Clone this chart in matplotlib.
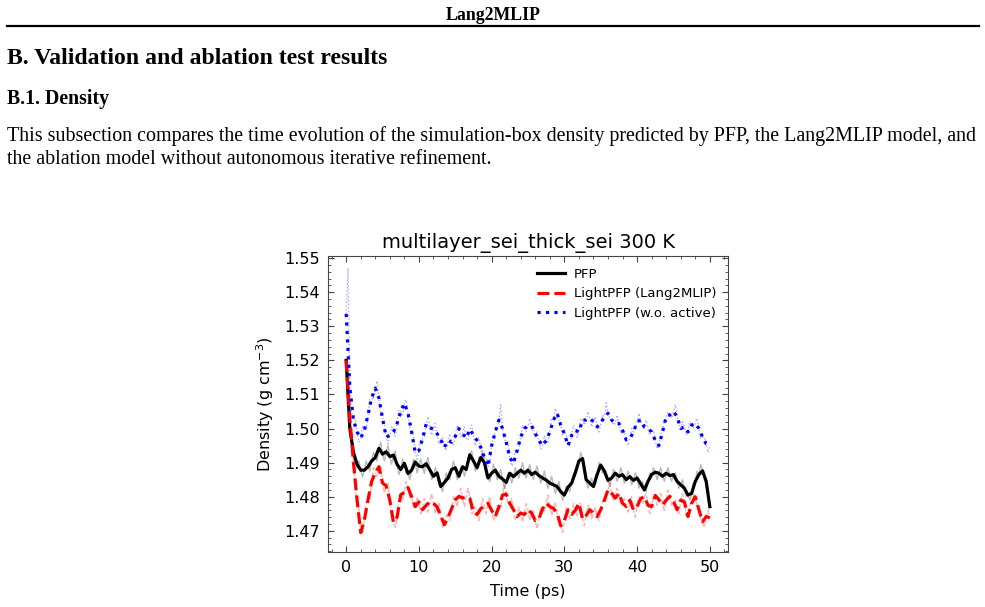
import numpy as np
import matplotlib
matplotlib.use("Agg")
import matplotlib.pyplot as plt
from matplotlib.lines import Line2D
from matplotlib.ticker import AutoMinorLocator

# smoothed curves, every 0.5 ps from 0 to 50
time = np.arange(0, 50.01, 0.5)
pfp = [1.5200, 1.5000, 1.4930, 1.4895, 1.4878, 1.4878, 1.4888, 1.4905, 1.4915, 1.4942,
       1.4925, 1.4932, 1.4918, 1.4922, 1.4895, 1.4880, 1.4898, 1.4868, 1.4878, 1.4902,
       1.4890, 1.4888, 1.4897, 1.4879, 1.4860, 1.4870, 1.4830, 1.4842, 1.4855, 1.4880,
       1.4885, 1.4860, 1.4888, 1.4880, 1.4923, 1.4905, 1.4885, 1.4915, 1.4900, 1.4855,
       1.4869, 1.4878, 1.4860, 1.4852, 1.4842, 1.4869, 1.4859, 1.4869, 1.4878, 1.4869,
       1.4878, 1.4865, 1.4872, 1.4862, 1.4855, 1.4849, 1.4840, 1.4835, 1.4830, 1.4815,
       1.4805, 1.4828, 1.4840, 1.4870, 1.4905, 1.4912, 1.4850, 1.4840, 1.4830, 1.4865,
       1.4893, 1.4875, 1.4848, 1.4855, 1.4869, 1.4860, 1.4865, 1.4850, 1.4859, 1.4848,
       1.4855, 1.4838, 1.4820, 1.4845, 1.4865, 1.4872, 1.4869, 1.4860, 1.4869, 1.4862,
       1.4865, 1.4845, 1.4835, 1.4825, 1.4805, 1.4810, 1.4845, 1.4865, 1.4876, 1.4845,
       1.4771]
lang2mlip = [1.5200, 1.5030, 1.4900, 1.4790, 1.4695, 1.4732, 1.4791, 1.4845, 1.4870, 1.4888,
             1.4840, 1.4832, 1.4790, 1.4725, 1.4740, 1.4806, 1.4813, 1.4827, 1.4800, 1.4771,
             1.4785, 1.4762, 1.4775, 1.4785, 1.4781, 1.4770, 1.4745, 1.4718, 1.4740, 1.4765,
             1.4791, 1.4801, 1.4796, 1.4800, 1.4795, 1.4755, 1.4748, 1.4765, 1.4771, 1.4781,
             1.4760, 1.4742, 1.4770, 1.4805, 1.4808, 1.4780, 1.4762, 1.4742, 1.4752, 1.4748,
             1.4762, 1.4752, 1.4730, 1.4735, 1.4765, 1.4781, 1.4771, 1.4766, 1.4752, 1.4715,
             1.4730, 1.4762, 1.4748, 1.4760, 1.4781, 1.4735, 1.4745, 1.4762, 1.4752, 1.4742,
             1.4762, 1.4790, 1.4820, 1.4810, 1.4796, 1.4810, 1.4781, 1.4771, 1.4790, 1.4762,
             1.4771, 1.4795, 1.4800, 1.4775, 1.4771, 1.4804, 1.4791, 1.4776, 1.4790, 1.4801,
             1.4786, 1.4762, 1.4790, 1.4785, 1.4742, 1.4781, 1.4800, 1.4762, 1.4727, 1.4742,
             1.4738]
wo_active = [1.5336, 1.5123, 1.5025, 1.4990, 1.4972, 1.4995, 1.5040, 1.5090, 1.5118, 1.5090,
             1.5030, 1.4975, 1.4980, 1.4990, 1.5015, 1.5050, 1.5074, 1.5045, 1.4990, 1.4929,
             1.4935, 1.4970, 1.5013, 1.5003, 1.4998, 1.4985, 1.4967, 1.4945, 1.4965, 1.4960,
             1.4977, 1.5000, 1.4985, 1.4972, 1.4998, 1.4980, 1.4965, 1.4945, 1.4915, 1.4889,
             1.4950, 1.4990, 1.5025, 1.5000, 1.4960, 1.4915, 1.4898, 1.4935, 1.4975, 1.5000,
             1.5008, 1.5008, 1.4985, 1.4965, 1.4950, 1.4965, 1.4990, 1.5025, 1.5045, 1.5010,
             1.4985, 1.4950, 1.4980, 1.4995, 1.4990, 1.5025, 1.5025, 1.5030, 1.5020, 1.5005,
             1.5015, 1.5035, 1.5045, 1.5025, 1.5015, 1.5015, 1.4995, 1.4967, 1.4970, 1.4990,
             1.5020, 1.5025, 1.5005, 1.5000, 1.4990, 1.4965, 1.4950, 1.4990, 1.5035, 1.5040,
             1.5050, 1.5035, 1.5000, 1.5005, 1.4990, 1.5010, 1.5015, 1.5000, 1.4975, 1.4955,
             1.4950]

# raw (unsmoothed) samples in between, at 0.25, 0.75, ... ps
time_mid = np.arange(0.25, 50, 0.5)
pfp_raw = [1.5120, 1.4985, 1.4875, 1.4905, 1.4858, 1.4905, 1.4875, 1.4930, 1.4905, 1.4960,
           1.4905, 1.4950, 1.4895, 1.4935, 1.4865, 1.4910, 1.4870, 1.4850, 1.4910, 1.4870,
           1.4910, 1.4868, 1.4915, 1.4850, 1.4885, 1.4835, 1.4815, 1.4870, 1.4850, 1.4905,
           1.4850, 1.4885, 1.4860, 1.4915, 1.4935, 1.4875, 1.4915, 1.4935, 1.4860, 1.4845,
           1.4895, 1.4850, 1.4880, 1.4825, 1.4870, 1.4840, 1.4885, 1.4855, 1.4900, 1.4855,
           1.4895, 1.4850, 1.4890, 1.4840, 1.4875, 1.4825, 1.4860, 1.4810, 1.4845, 1.4790,
           1.4830, 1.4815, 1.4870, 1.4880, 1.4930, 1.4870, 1.4825, 1.4855, 1.4835, 1.4900,
           1.4870, 1.4875, 1.4830, 1.4880, 1.4845, 1.4885, 1.4840, 1.4875, 1.4835, 1.4870,
           1.4825, 1.4845, 1.4815, 1.4870, 1.4885, 1.4850, 1.4885, 1.4845, 1.4885, 1.4845,
           1.4870, 1.4825, 1.4850, 1.4800, 1.4790, 1.4840, 1.4875, 1.4895, 1.4855, 1.4820]
lang2mlip_raw = [1.5135, 1.4990, 1.4820, 1.4760, 1.4690, 1.4785, 1.4790, 1.4885, 1.4860, 1.4890,
                 1.4810, 1.4840, 1.4735, 1.4710, 1.4790, 1.4790, 1.4845, 1.4800, 1.4770, 1.4800,
                 1.4750, 1.4795, 1.4755, 1.4810, 1.4750, 1.4780, 1.4710, 1.4745, 1.4730, 1.4800,
                 1.4770, 1.4825, 1.4770, 1.4825, 1.4750, 1.4770, 1.4730, 1.4795, 1.4750, 1.4800,
                 1.4730, 1.4775, 1.4765, 1.4835, 1.4780, 1.4795, 1.4730, 1.4770, 1.4725, 1.4780,
                 1.4730, 1.4760, 1.4705, 1.4770, 1.4755, 1.4805, 1.4745, 1.4785, 1.4725, 1.4695,
                 1.4770, 1.4735, 1.4780, 1.4745, 1.4780, 1.4715, 1.4775, 1.4735, 1.4770, 1.4730,
                 1.4790, 1.4810, 1.4840, 1.4790, 1.4825, 1.4780, 1.4795, 1.4755, 1.4800, 1.4740,
                 1.4800, 1.4780, 1.4810, 1.4750, 1.4800, 1.4775, 1.4810, 1.4760, 1.4820, 1.4775,
                 1.4790, 1.4750, 1.4810, 1.4745, 1.4775, 1.4810, 1.4775, 1.4735, 1.4710, 1.4760]
wo_active_raw = [1.5470, 1.5045, 1.5030, 1.4960, 1.5005, 1.4995, 1.5085, 1.5085, 1.5140, 1.5045,
                 1.5020, 1.4955, 1.5005, 1.4975, 1.5055, 1.5040, 1.5085, 1.5000, 1.4980, 1.4910,
                 1.4970, 1.4975, 1.5035, 1.4980, 1.5015, 1.4955, 1.4975, 1.4935, 1.4985, 1.4950,
                 1.5010, 1.4975, 1.5005, 1.4965, 1.5010, 1.4950, 1.4975, 1.4910, 1.4915, 1.4900,
                 1.4975, 1.5000, 1.5070, 1.4970, 1.4960, 1.4890, 1.4935, 1.4940, 1.5010, 1.4990,
                 1.5030, 1.4985, 1.4990, 1.4940, 1.4980, 1.4960, 1.5030, 1.5060, 1.5040, 1.4980,
                 1.4985, 1.4950, 1.5010, 1.4975, 1.5030, 1.5010, 1.5050, 1.5005, 1.5035, 1.4990,
                 1.5040, 1.5075, 1.5030, 1.5010, 1.5040, 1.4985, 1.4990, 1.4950, 1.5000, 1.5000,
                 1.5045, 1.5000, 1.5025, 1.4980, 1.4995, 1.4940, 1.4985, 1.5020, 1.5050, 1.5030,
                 1.5070, 1.5010, 1.5020, 1.4980, 1.5020, 1.5000, 1.5030, 1.4970, 1.4975, 1.4930]

series_labels = ["PFP", "LightPFP (Lang2MLIP)", "LightPFP (w.o. active)"]


def merged(smooth, raw):
    # raw trace: smoothed samples and in-between samples, in time order
    t = np.concatenate([time, time_mid])
    v = np.concatenate([smooth, raw])
    order = np.argsort(t)
    return t[order], v[order]


W, H = 985, 607
fig = plt.figure(figsize=(W / 100, H / 100), dpi=100)
serif = "Liberation Serif"


def px(x, y):
    return x / W, 1 - y / H


# page text around the figure
fig.text(*px(493, 15), "Lang2MLIP", family=serif, weight="bold", fontsize=12.8,
         ha="center", va="center")
fig.add_artist(Line2D([7 / W, 979 / W], [1 - 25.5 / H] * 2, color="black", lw=1.6))
fig.text(*px(7, 58), "B. Validation and ablation test results", family=serif,
         weight="bold", fontsize=17.1, ha="left", va="center")
fig.text(*px(7, 99), "B.1. Density", family=serif, weight="bold", fontsize=14.2,
         ha="left", va="center")
fig.text(*px(7, 136), "This subsection compares the time evolution of the simulation-box density "
         "predicted by PFP, the Lang2MLIP model, and", family=serif, fontsize=14.45,
         ha="left", va="center")
fig.text(*px(7, 159), "the ablation model without autonomous iterative refinement.",
         family=serif, fontsize=14.45, ha="left", va="center")

# the chart
ax = fig.add_axes([328 / W, 1 - 552 / H, 400 / W, 296 / H])

styles = [("black", "-", "gray", 0.55), ("red", "--", "red", 0.3), ("blue", ":", "blue", 0.35)]
for smooth, raw, (col, ls, rawcol, al) in zip([pfp, lang2mlip, wo_active],
                                             [pfp_raw, lang2mlip_raw, wo_active_raw], styles):
    tr, vr = merged(smooth, raw)
    ax.plot(tr, vr, color=rawcol, ls=ls, lw=1.0, alpha=al)
for smooth, (col, ls, rawcol, al), lab in zip([pfp, lang2mlip, wo_active], styles, series_labels):
    ax.plot(time, smooth, color=col, ls=ls, lw=2.3, label=lab)

ax.set_xlim(-2.5, 52.5)
ax.set_ylim(1.4638, 1.5506)
ax.set_xticks([0, 10, 20, 30, 40, 50])
ax.set_yticks(np.round(np.arange(1.47, 1.5501, 0.01), 2))
ax.xaxis.set_minor_locator(AutoMinorLocator(5))
ax.yaxis.set_minor_locator(AutoMinorLocator(5))
ax.tick_params(which="both", direction="in", top=True, right=True, labelsize=11.5,
               color="#444444")
ax.tick_params(which="major", length=4.5, pad=6)
ax.tick_params(which="minor", length=2.2)
for s in ax.spines.values():
    s.set_color("#444444")
ax.set_xlabel("Time (ps)", fontsize=11.5, labelpad=6)
ax.set_ylabel(r"Density (g cm$^{-3}$)", fontsize=11.5, labelpad=6)
ax.set_title("multilayer_sei_thick_sei 300 K", fontsize=14)
ax.legend(loc="upper right", frameon=False, fontsize=9.5, handlelength=2.1,
          handletextpad=0.65)

fig.savefig("out.png", dpi=100)
